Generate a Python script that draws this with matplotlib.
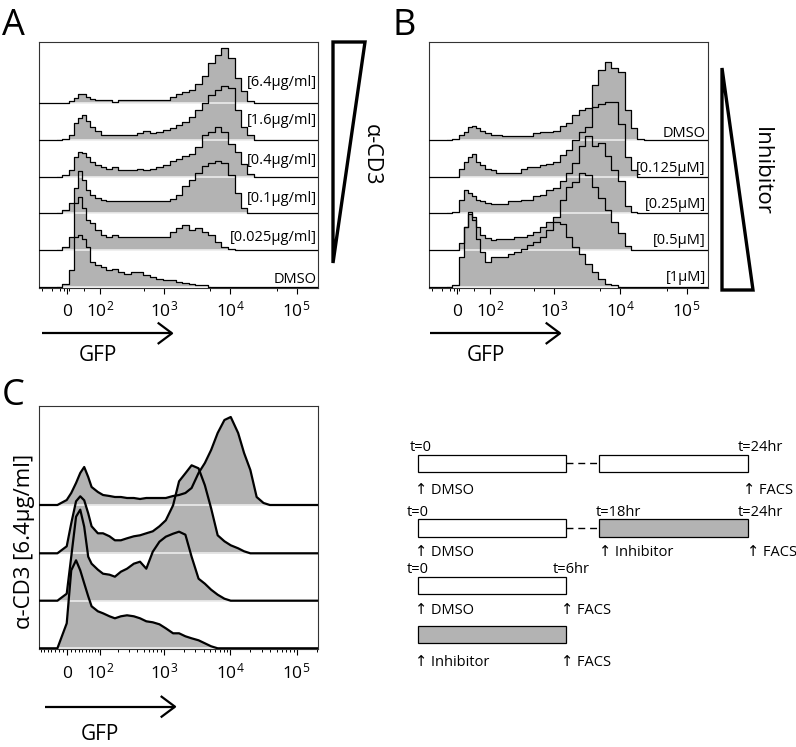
import numpy as np
import matplotlib
matplotlib.use('Agg')
import matplotlib.pyplot as plt
from matplotlib.patches import Polygon, Rectangle

plt.rcParams['font.family'] = ['Open Sans', 'DejaVu Sans']
plt.rcParams['mathtext.fontset'] = 'custom'
plt.rcParams['mathtext.rm'] = 'Open Sans'

W, H, DPI = 796, 747, 100
GRAY = '#b3b3b3'
BAND = '#ececec'

# ---------------- data ----------------
gfp_bins = [-57, -23, 0, 11, 23, 34, 45, 57, 68, 91, 113, 146, 179, 223, 278, 354,
            440, 548, 687, 866, 1080, 1390, 1710, 2130, 2640, 3360, 4180, 5190,
            6510, 8230, 10240, 13230, 16240, 20190, 25110, 31880, 39660]

# Panel A (alpha-CD3 titration), top to bottom
a_labels = ['[6.4µg/ml]', '[1.6µg/ml]', '[0.4µg/ml]', '[0.1µg/ml]', '[0.025µg/ml]', 'DMSO']
a_cd3_6_4 = [0, 0, 0, 2, 5, 9, 9, 6, 4, 3, 3, 3, 1, 3, 3, 3, 3, 3, 3, 3,
             3, 6, 9, 11, 13, 19, 27, 40, 48, 55, 45, 25, 12, 2, 0, 0, 0]
a_cd3_1_6 = [0, 0, 1, 5, 17, 22, 25, 19, 13, 9, 5, 5, 5, 5, 5, 5, 7, 9, 7, 8,
             10, 12, 15, 18, 23, 30, 37, 45, 50, 54, 52, 30, 13, 5, 0, 0, 0]
a_cd3_0_4 = [0, 0, 2, 7, 20, 25, 24, 20, 15, 12, 10, 8, 10, 7, 7, 7, 8, 7, 8, 10,
             12, 16, 18, 21, 23, 30, 42, 45, 50, 45, 33, 25, 13, 3, 0, 0, 0]
a_cd3_0_1 = [0, 0, 3, 10, 25, 42, 33, 23, 18, 15, 13, 12, 12, 12, 12, 12, 12, 12, 12, 12,
             12, 14, 18, 27, 33, 40, 47, 50, 52, 50, 38, 20, 5, 0, 0, 0, 0]
a_cd3_0_025 = [0, 0, 3, 13, 47, 53, 42, 30, 27, 20, 15, 13, 15, 13, 13, 13, 13, 13, 13, 13,
               13, 18, 22, 25, 20, 22, 18, 15, 8, 3, 1, 0, 0, 0, 0, 0, 0]
a_dmso = [0, 0, 3, 17, 50, 52, 48, 40, 25, 22, 20, 17, 18, 15, 13, 15, 15, 12, 10, 8,
          7, 7, 5, 4, 3, 2, 2, 0, 0, 0, 0, 0, 0, 0, 0, 0, 0]

# Panel B (inhibitor titration), top to bottom
b_labels = ['DMSO', '[0.125µM]', '[0.25µM]', '[0.5µM]', '[1µM]']
b_dmso = [0, 0, 1, 5, 8, 13, 14, 12, 9, 7, 5, 5, 4, 4, 4, 4, 4, 7, 8, 8,
          9, 14, 17, 25, 30, 32, 55, 70, 78, 72, 68, 30, 12, 1, 0, 0, 0]
b_inh_0_125 = [0, 0, 0, 8, 15, 20, 23, 15, 12, 8, 7, 4, 4, 4, 4, 8, 10, 10, 12, 13,
               15, 22, 27, 37, 45, 50, 70, 73, 75, 75, 53, 20, 7, 0, 0, 0, 0]
b_inh_0_25 = [0, 0, 1, 13, 23, 20, 17, 13, 12, 10, 9, 9, 9, 12, 12, 13, 13, 17, 18, 23,
              25, 32, 40, 50, 67, 77, 67, 70, 57, 43, 32, 7, 1, 0, 0, 0, 0]
b_inh_0_5 = [0, 0, 0, 7, 23, 38, 33, 23, 15, 12, 10, 11, 11, 11, 13, 13, 15, 18, 23, 28,
             33, 50, 63, 68, 77, 75, 63, 52, 40, 28, 17, 4, 0, 0, 0, 0, 0]
b_inh_1 = [0, 0, 2, 30, 60, 73, 67, 48, 35, 25, 30, 30, 30, 33, 35, 38, 42, 45, 50, 57,
           65, 63, 50, 40, 33, 23, 15, 8, 3, 2, 0, 0, 0, 0, 0, 0, 0]

# Panel C (6.4 µg/ml alpha-CD3, four schedules), top to bottom
c_row1 = [0, 0, 5, 12, 22, 32, 38, 28, 18, 13, 10, 9, 8, 8, 7, 7, 6, 7, 7, 7,
          7, 9, 10, 12, 17, 32, 42, 55, 72, 85, 88, 72, 52, 35, 8, 2, 0]
c_row2 = [0, 0, 7, 30, 52, 57, 53, 40, 27, 20, 20, 17, 13, 13, 15, 17, 18, 20, 22, 27,
          33, 48, 72, 80, 88, 85, 68, 45, 18, 12, 8, 5, 2, 0, 0, 0, 0]
c_row3 = [0, 0, 7, 44, 84, 91, 74, 44, 37, 31, 27, 26, 24, 29, 32, 37, 39, 32, 49, 59,
          64, 67, 69, 66, 44, 22, 17, 11, 6, 2, 0, 0, 0, 0, 0, 0, 0]
c_row4 = [0, 0, 25, 78, 88, 78, 65, 52, 42, 37, 35, 32, 30, 32, 33, 32, 30, 27, 26, 24,
          20, 15, 15, 12, 10, 8, 5, 2, 0, 0, 0, 0, 0, 0, 0, 0, 0]

tick_values = [0, 100, 1000, 10000, 100000]
tick_labels = ['0', r'$\mathregular{10^2}$', r'$\mathregular{10^3}$',
               r'$\mathregular{10^4}$', r'$\mathregular{10^5}$']
minor_ab = [-66, -36, -16, -6, 6, 45, 500, 5000, 50000]
minor_c = ([-v for v in range(10, 80, 10)] + list(range(10, 100, 10)) +
           [m * 10 ** k for k in (2, 3, 4) for m in range(2, 10)] + [200000])

# ---------------- scale ----------------
K = 70.0
LN10 = np.log(10)


def fwd(v):
    return np.arcsinh(np.asarray(v, dtype=float) / K) / LN10


def inv(u):
    return K * np.sinh(np.asarray(u, dtype=float) * LN10)


XMIN, XMAX = -78, 210000

fig = plt.figure(figsize=(W / DPI, H / DPI), dpi=DPI)


def px_axes(l, t, r, b):
    return fig.add_axes([l / W, 1 - b / H, (r - l) / W, (b - t) / H])


def setup(ax, ytop, minor):
    ax.set_xscale('function', functions=(fwd, inv))
    ax.set_xlim(XMIN, XMAX)
    ax.set_ylim(0, ytop)
    ax.set_yticks([])
    ax.set_xticks(tick_values, tick_labels, va='baseline')
    ax.set_xticks(minor, minor=True)
    ax.tick_params(axis='x', which='major', direction='out', length=4.3, width=0.8,
                   pad=16.4, labelsize=12.5)
    ax.tick_params(axis='x', which='minor', direction='out', length=2.5, width=0.7)
    for s in ax.spines.values():
        s.set_linewidth(0.8)
        s.set_color('#333333')


def draw_rows(ax, rows, offsets, smooth=False, lw=0.9):
    x = np.array(gfp_bins, dtype=float)
    xe = np.r_[XMIN, x, XMAX]
    step = None if smooth else 'mid'
    for h, off in zip(rows, offsets):
        he = np.r_[0, np.asarray(h, dtype=float), 0] + off
        ax.fill_between(xe, off, he, step=step, color=GRAY, lw=0, zorder=2)
    for h, off in zip(rows, offsets):
        nz = np.nonzero(h)[0]
        x0 = x[max(nz[0] - 1, 0)]
        x1 = x[min(nz[-1] + 1, len(x) - 1)]
        ax.plot([x0, x1], [off, off], color=BAND, lw=1.2, zorder=3,
                solid_capstyle='butt')
    for h, off in zip(rows, offsets):
        he = np.r_[0, np.asarray(h, dtype=float), 0] + off
        if smooth:
            ax.plot(xe, he, color='black', lw=lw, zorder=4, solid_joinstyle='round')
        else:
            ax.step(xe, he, where='mid', color='black', lw=lw, zorder=4)


# Panel A
axA = px_axes(39, 42, 318, 287.5)
setup(axA, 245.5, minor_ab)
draw_rows(axA, [a_cd3_6_4, a_cd3_1_6, a_cd3_0_4, a_cd3_0_1, a_cd3_0_025, a_dmso],
          [184.2, 147.5, 110.8, 74.2, 37.5, 0.8])

# Panel B
axB = px_axes(429, 42, 708, 287.5)
setup(axB, 245.5, minor_ab)
draw_rows(axB, [b_dmso, b_inh_0_125, b_inh_0_25, b_inh_0_5, b_inh_1],
          [147.5, 110.8, 74.2, 37.5, 0.8])

# Panel C
axC = px_axes(39, 405.7, 318, 649.3)
setup(axC, 243.6, minor_c)
draw_rows(axC, [c_row1, c_row2, c_row3, c_row4], [144.3, 96.0, 48.6, 1.0],
          smooth=True, lw=1.6)

# ---------------- overlay (annotations) ----------------
ov = fig.add_axes([0, 0, 1, 1])
ov.set_xlim(0, W)
ov.set_ylim(H, 0)
ov.axis('off')
ov.patch.set_visible(False)

# panel letters
for letter, x, y in [('A', 2, 35), ('B', 392, 35), ('C', 2, 405)]:
    ov.text(x, y, letter, fontsize=26, ha='left', va='baseline')

# row labels
for lab, y in zip(a_labels, [86.4, 124.4, 164.4, 202.4, 241.4, 283]):
    ov.text(316.5, y, lab, fontsize=10.5, ha='right', va='baseline')
for lab, y in zip(b_labels, [136.7, 172.4, 208.4, 244.4, 281.4]):
    ov.text(705.7, y, lab, fontsize=10.5, ha='right', va='baseline')


def gfp_arrow(x0, x1, y, tx, ty):
    ov.plot([x0, x1], [y, y], color='black', lw=1.6, solid_capstyle='butt')
    ov.plot([x1 - 13.4, x1, x1 - 13.4], [y - 10, y, y + 10], color='black', lw=1.6)
    ov.text(tx, ty, 'GFP', fontsize=15, ha='center', va='baseline')


gfp_arrow(42, 172, 333.3, 98, 361)
gfp_arrow(430, 560, 333.3, 486, 361)
gfp_arrow(45, 175, 706.7, 100, 740)

# triangles
ov.add_patch(Polygon([(333, 42), (365, 42), (333, 263)], closed=True, fill=False,
                     lw=2.4, ec='black', joinstyle='miter'))
ov.text(371, 155, 'α-CD3', fontsize=15.5, rotation=270, ha='center', va='center')
ov.add_patch(Polygon([(722, 68), (722, 290), (753, 290)], closed=True, fill=False,
                     lw=2.4, ec='black', joinstyle='miter'))
ov.text(761, 171, 'Inhibitor', fontsize=16, rotation=270, ha='center', va='center')

ov.text(25, 541, 'α-CD3 [6.4µg/ml]', fontsize=16, rotation=90, ha='center', va='center')

# ---------------- schematic ----------------
FS = 10.5


def box(x0, y0, x1, y1, filled=False):
    ov.add_patch(Rectangle((x0, y0), x1 - x0, y1 - y0, fc=GRAY if filled else 'white',
                           ec='black', lw=0.9))


def dash(x0, x1, y):
    ov.plot([x0, x1], [y, y], color='black', lw=1.0, ls=(0, (5, 3.5)))


def txt(x, y, s, ha='left'):
    ov.text(x, y, s, fontsize=FS, ha=ha, va='baseline')


# row 1
txt(410, 450.7, 't=0')
box(417.7, 455, 566, 472)
dash(566, 599, 463.3)
box(599, 455, 748, 472)
txt(783.3, 450.7, 't=24hr', ha='right')
txt(415, 494, '↑ DMSO')
txt(743.3, 494, '↑ FACS')
# row 2
txt(406.7, 516, 't=0')
box(417.7, 519.3, 566, 537)
dash(566, 599, 528.3)
box(599, 519.3, 748, 537, filled=True)
txt(596, 516, 't=18hr')
txt(783.3, 516, 't=24hr', ha='right')
txt(415, 556.5, '↑ DMSO')
txt(599.3, 556.5, '↑ Inhibitor')
txt(746.7, 556.5, '↑ FACS')
# row 3
txt(406.7, 572.7, 't=0')
box(417.7, 576.7, 566, 594)
txt(552.7, 572.7, 't=6hr')
txt(415, 614, '↑ DMSO')
txt(561, 614, '↑ FACS')
# row 4
box(417.7, 625.5, 566, 643, filled=True)
txt(415, 666.5, '↑ Inhibitor')
txt(561, 666.5, '↑ FACS')

fig.savefig('out.png', dpi=DPI)
